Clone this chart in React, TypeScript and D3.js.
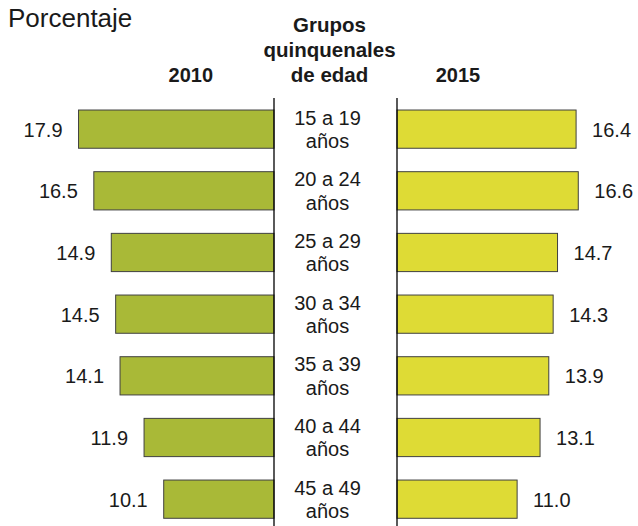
import * as d3 from "d3";

const categories = ["15 a 19", "20 a 24", "25 a 29", "30 a 34", "35 a 39", "40 a 44", "45 a 49"];
const values2010 = [17.9, 16.5, 14.9, 14.5, 14.1, 11.9, 10.1];
const values2015 = [16.4, 16.6, 14.7, 14.3, 13.9, 13.1, 11.0];
const headerLines = ["Grupos", "quinquenales", "de edad"];

const WIDTH = 638;
const HEIGHT = 526;
const FONT = "'Liberation Sans', Arial, Helvetica, sans-serif";
const LEFT_AXIS = 274;
const RIGHT_AXIS = 397;
const LABEL_CENTER = 327.5;

export default function App() {
  const x = d3.scaleLinear().domain([0, 20]).range([0, 218.4]);
  const y = d3
    .scaleBand<string>()
    .domain(categories)
    .range([98.3, 530])
    .paddingInner(0.38)
    .paddingOuter(0.19);

  return (
    <svg
      width={WIDTH}
      height={HEIGHT}
      style={{ position: "absolute", left: 0, top: 0, background: "#fff" }}
      fontFamily={FONT}
    >
      <text x={8} y={26.7} fontSize={26} fill="#1a1a1a">
        Porcentaje
      </text>

      {headerLines.map((line, i) => (
        <text
          key={line}
          x={329.5}
          y={31.7 + i * 25}
          fontSize={20.5}
          fontWeight="bold"
          textAnchor="middle"
          fill="#1a1a1a"
        >
          {line}
        </text>
      ))}
      <text x={190.8} y={81.7} fontSize={20} fontWeight="bold" textAnchor="middle" fill="#1a1a1a">
        2010
      </text>
      <text x={458} y={81.7} fontSize={20} fontWeight="bold" textAnchor="middle" fill="#1a1a1a">
        2015
      </text>

      {categories.map((cat, i) => {
        const top = y(cat) ?? 0;
        const h = y.bandwidth();
        const mid = top + h / 2;
        const w10 = x(values2010[i]);
        const w15 = x(values2015[i]);
        return (
          <g key={cat}>
            <rect
              x={LEFT_AXIS - w10}
              y={top}
              width={w10}
              height={h}
              fill="#A9B937"
              stroke="#404040"
              strokeWidth={1}
            />
            <rect
              x={RIGHT_AXIS}
              y={top}
              width={w15}
              height={h}
              fill="#DEDB35"
              stroke="#404040"
              strokeWidth={1}
            />
            <text
              x={LEFT_AXIS - w10 - 16}
              y={mid + 7.5}
              fontSize={20}
              textAnchor="end"
              fill="#1a1a1a"
            >
              {values2010[i].toFixed(1)}
            </text>
            <text x={RIGHT_AXIS + w15 + 16} y={mid + 7.5} fontSize={20} fill="#1a1a1a">
              {values2015[i].toFixed(1)}
            </text>
            <text x={LABEL_CENTER} y={mid - 4.5} fontSize={20} textAnchor="middle" fill="#1a1a1a">
              {cat}
            </text>
            <text x={LABEL_CENTER} y={mid + 19} fontSize={20} textAnchor="middle" fill="#1a1a1a">
              años
            </text>
          </g>
        );
      })}

      <line x1={LEFT_AXIS} x2={LEFT_AXIS} y1={98} y2={HEIGHT} stroke="#000" strokeWidth={1.3} />
      <line x1={RIGHT_AXIS} x2={RIGHT_AXIS} y1={98} y2={HEIGHT} stroke="#000" strokeWidth={1.3} />
    </svg>
  );
}
